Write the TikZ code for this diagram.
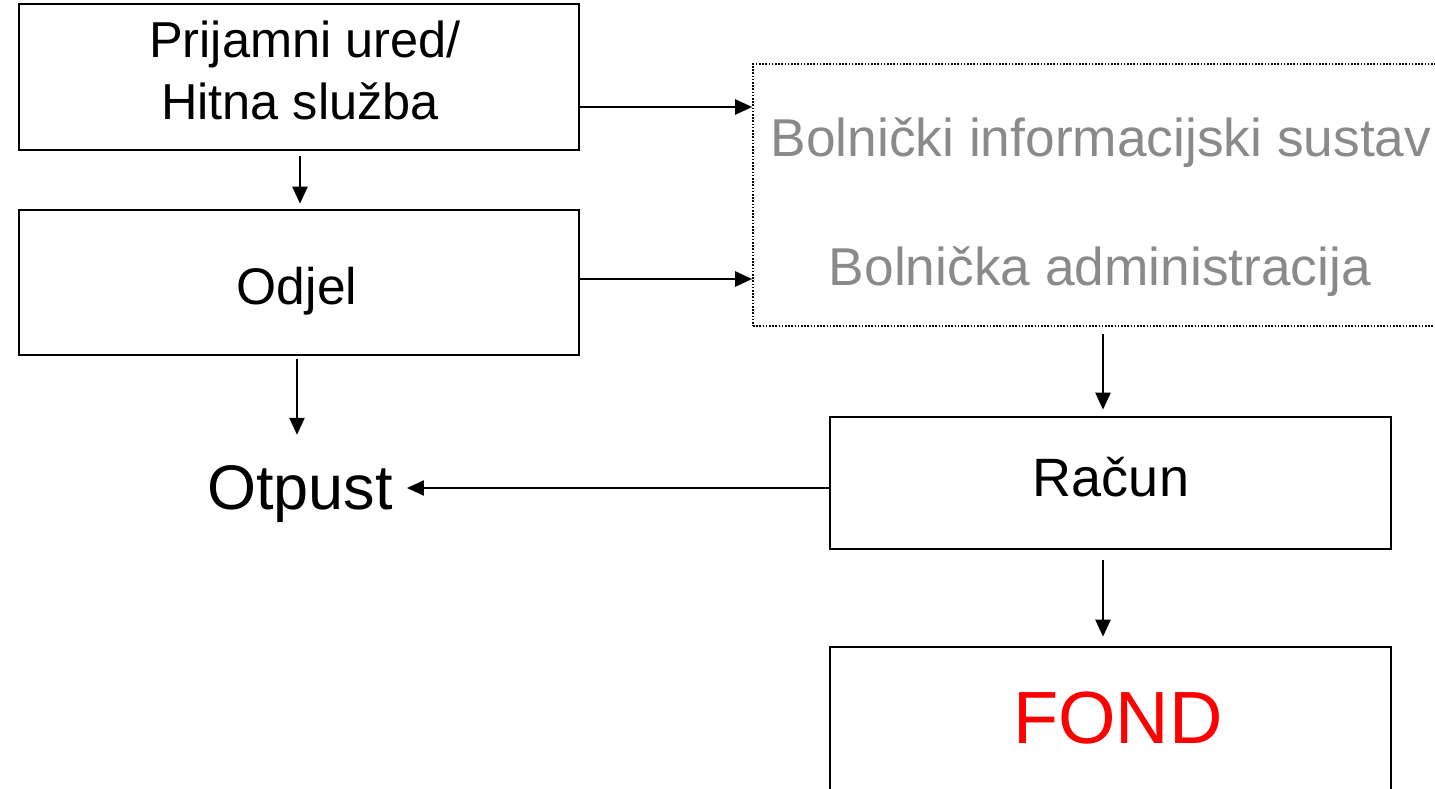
\documentclass[tikz,border=0pt]{standalone}
\usepackage{fontspec}
\setmainfont{Liberation Sans}
\usetikzlibrary{arrows.meta}
\definecolor{bisgray}{RGB}{138,138,138}
\definecolor{fondred}{RGB}{255,0,0}

\begin{document}
\begin{tikzpicture}[x=1pt, y=-1pt,
  box/.style={draw, line width=2.7pt, inner sep=0pt},
  dotbox/.style={draw, line width=1.6pt, dash pattern=on 1.6pt off 1.6pt, inner sep=0pt},
  lbl/.style={anchor=base, inner sep=0pt},
  arr/.style={line width=2.3pt, -{Triangle[length=17pt, width=15pt]}}
]
\useasboundingbox (0,0) rectangle (1435,788);
\clip (0,0) rectangle (1435,788);

% boxes
\node[box, minimum width=560pt, minimum height=146pt] (prijem) at (299,77) {};
\node[box, minimum width=560pt, minimum height=145pt] (odjel) at (299,282.5) {};
\node[dotbox, minimum width=692pt, minimum height=262pt] (bis) at (1099,195) {};
\node[box, minimum width=561pt, minimum height=132pt] (racun) at (1110.5,483) {};
\node[box, minimum width=561pt, minimum height=160pt] (fond) at (1110.5,727) {};

% labels
\node[lbl, font=\fontsize{50.5}{60}\selectfont] (prijemA) at (305,57) {Prijamni ured/};
\node[lbl, font=\fontsize{50.5}{60}\selectfont] (prijemB) at (300,119) {Hitna služba};
\node[lbl, font=\fontsize{51.5}{62}\selectfont] (odjelT) at (297,304) {Odjel};
\node[lbl, font=\fontsize{53.3}{63}\selectfont, text=bisgray] (bisA) at (1101,156) {Bolnički informacijski sustav};
\node[lbl, font=\fontsize{53.3}{63}\selectfont, text=bisgray] (bisB) at (1100,285) {Bolnička administracija};
\node[lbl, font=\fontsize{54}{64}\selectfont] (racunT) at (1111,496) {Račun};
\node[lbl, font=\fontsize{63}{76}\selectfont] (otpust) at (300,509) {Otpust};
\node[lbl, font=\fontsize{74}{88}\selectfont, text=fondred] (fondT) at (1118,743) {FOND};

% connectors
\coordinate (p1) at ([yshift=-30pt]prijem.east);
\coordinate (p2) at ([yshift=3.5pt]odjel.east);
\coordinate (p3) at ([xshift=-2pt,yshift=-3pt]odjel.south);
\coordinate (p4) at ([xshift=4pt,yshift=-7pt]bis.south);
\coordinate (p5) at ([xshift=-7.5pt,yshift=-10pt]racun.south);
\coordinate (p6) at ([yshift=-5pt]racun.west);

\draw[arr, shorten <=5pt, shorten >=5pt] ([xshift=1pt]prijem.south) -- ([xshift=1pt]odjel.north);
\draw[arr] (p1) -- (p1 -| bis.west);
\draw[arr] (p2) -- (p2 -| bis.west);
\draw[arr, shorten >=30pt] (p3) -- (p3 |- otpust.north);
\draw[arr, shorten >=6pt] (p4) -- (p4 |- racun.north);
\draw[arr, shorten >=9pt] (p5) -- (p5 |- fond.north);
\draw[arr, shorten >=14pt] (p6) -- (p6 -| otpust.east);
\end{tikzpicture}
\end{document}
